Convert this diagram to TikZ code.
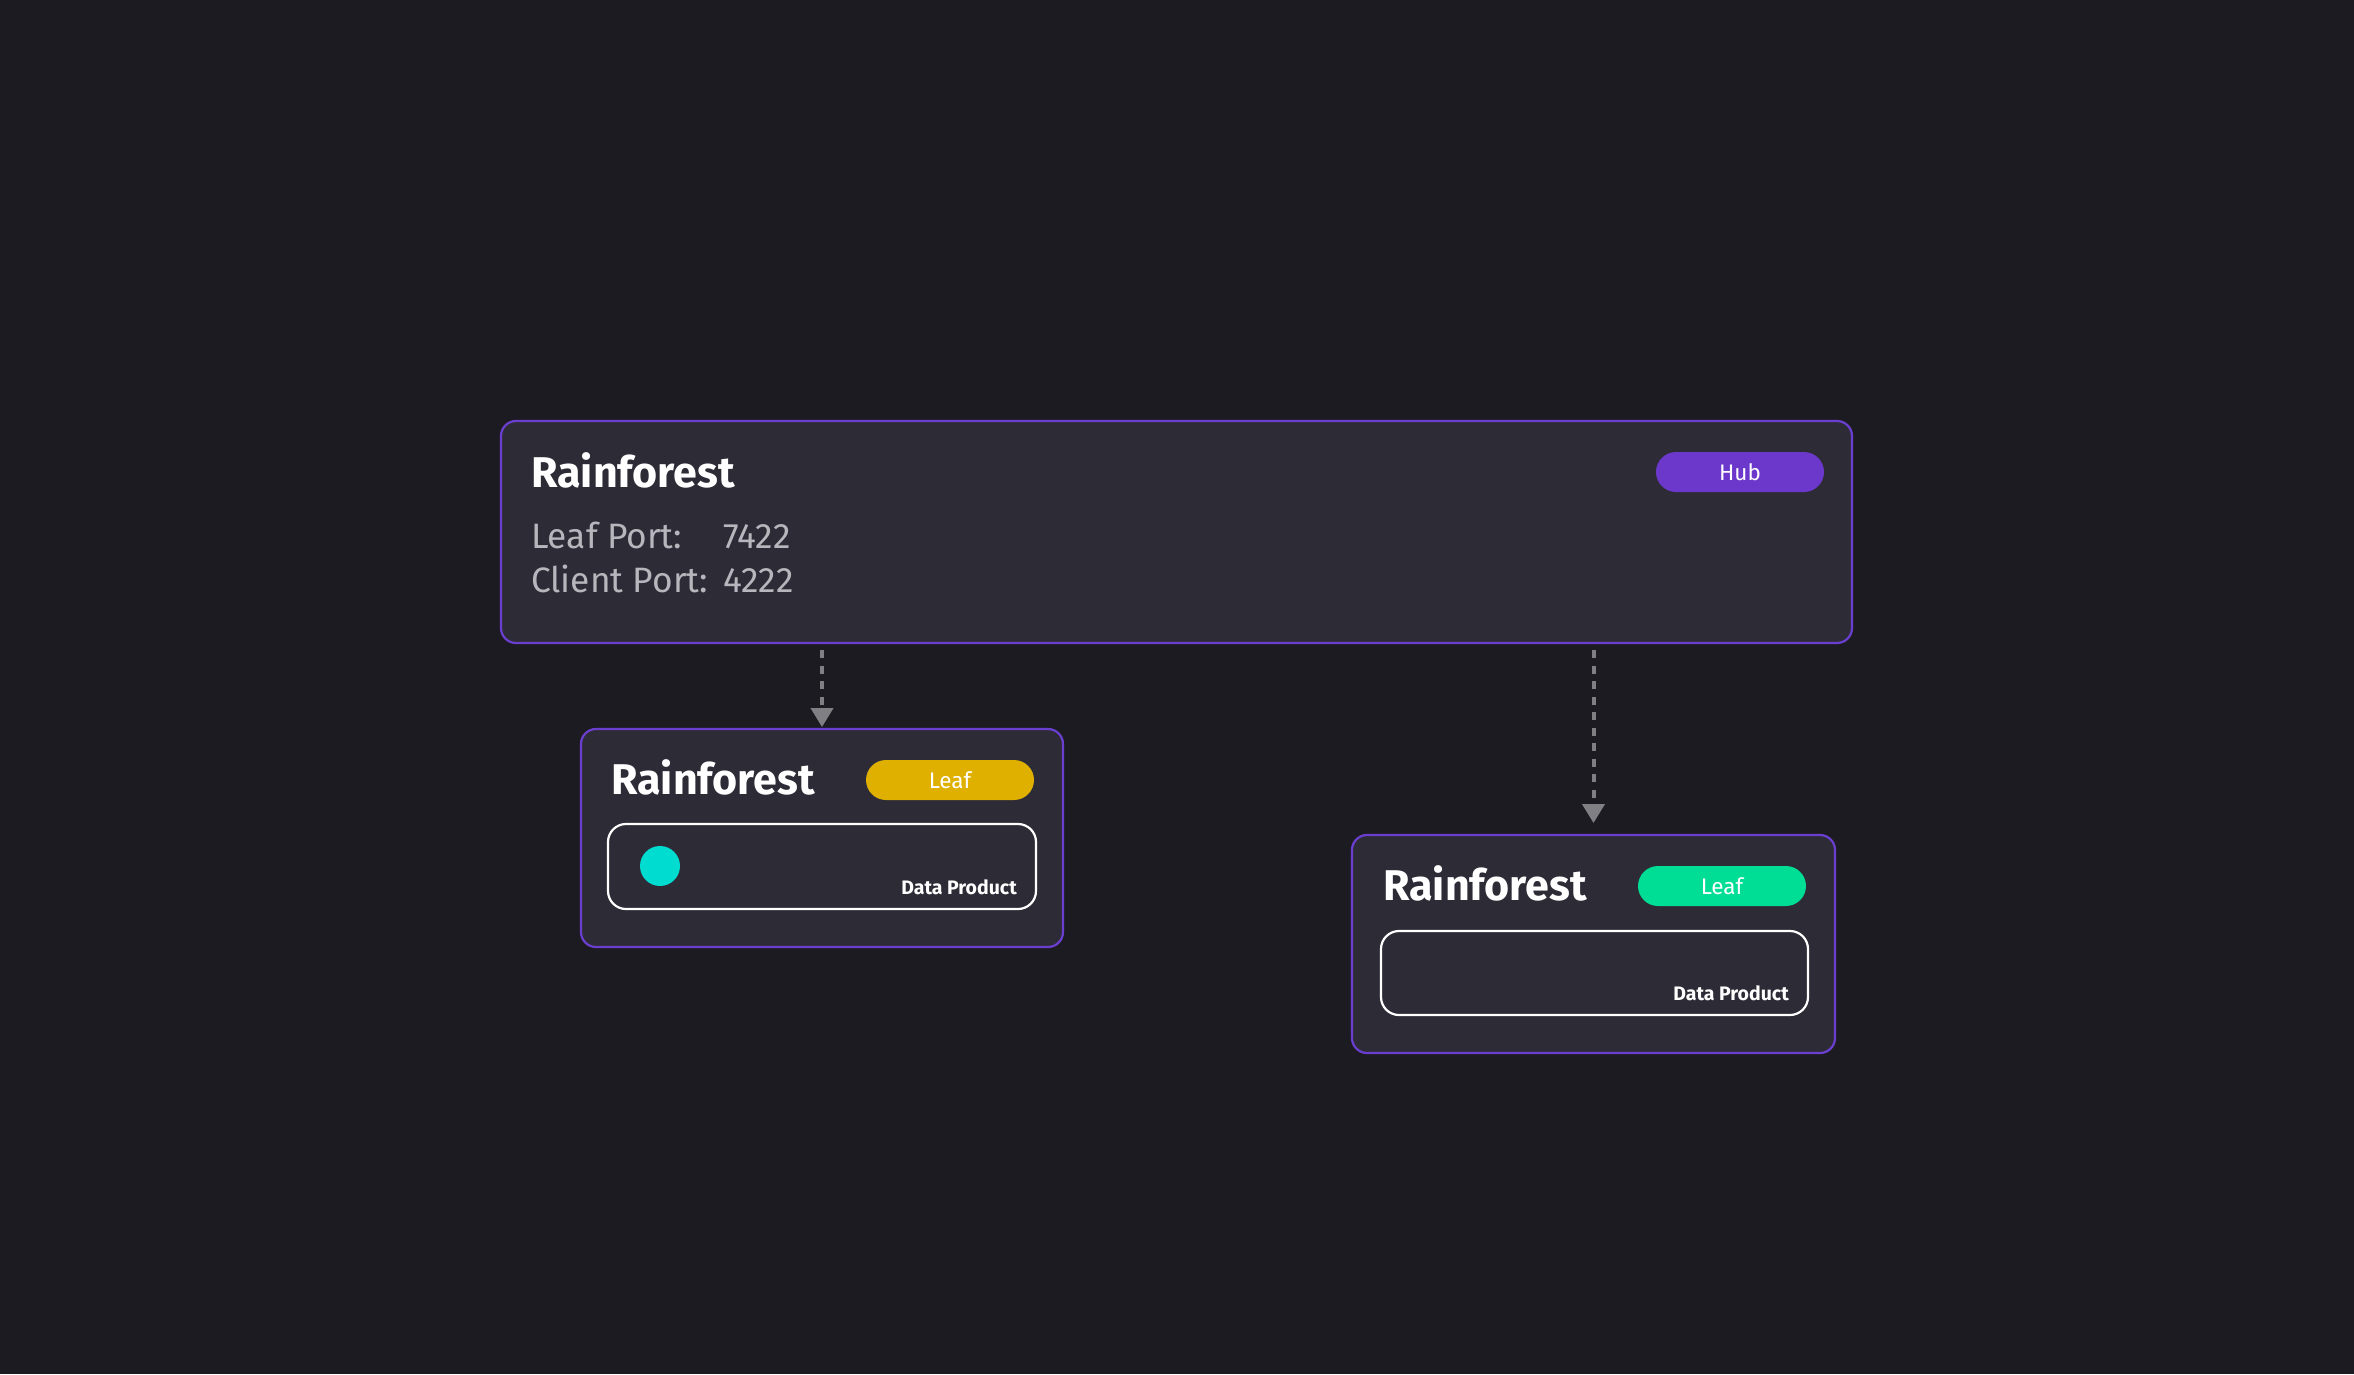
\documentclass[tikz,border=0pt]{standalone}
\usepackage{fontspec}
\setmainfont{Fira Sans}
\usetikzlibrary{arrows.meta}
\definecolor{bgc}{RGB}{28,27,34}
\definecolor{cardfill}{RGB}{45,43,54}
\definecolor{cardborder}{RGB}{106,63,208}
\definecolor{hubc}{RGB}{108,56,204}
\definecolor{yellowc}{RGB}{224,176,0}
\definecolor{greenc}{RGB}{0,222,150}
\definecolor{cyanc}{RGB}{0,220,208}
\definecolor{graytext}{RGB}{182,182,188}
\definecolor{arrowc}{RGB}{128,128,132}
\tikzset{
  card/.style={draw=cardborder, fill=cardfill, line width=2.2pt, rounded corners=15pt, outer sep=0pt, inner sep=0pt},
  dpbox/.style={draw=white, fill=cardfill, line width=2.2pt, rounded corners=18pt, outer sep=0pt, inner sep=0pt},
  badge/.style={rounded corners=20pt, minimum width=168pt, minimum height=40pt, inner sep=0pt, text=white, font=\fontsize{22.5}{26}\selectfont},
  title/.style={anchor=base west, inner sep=0pt, text=white, font=\fontsize{43}{50}\selectfont\bfseries},
  bodytext/.style={anchor=base west, inner sep=0pt, text=graytext, font=\fontsize{35.3}{42}\selectfont},
  dptext/.style={anchor=base east, inner sep=0pt, text=white, font=\fontsize{19.5}{24}\selectfont\bfseries},
  link/.style={draw=arrowc, line width=4pt, dash pattern=on 8pt off 7.5pt, -{Triangle[width=22pt,length=19pt]}}
}
\begin{document}
\begin{tikzpicture}[x=1pt,y=-1pt]
\useasboundingbox (0,0) rectangle (2354,1374);
\fill[bgc] (0,0) rectangle (2354,1374);
% hub card
\node[card, minimum width=1351pt, minimum height=222pt] (hub) at (1176.5,532) {};
\node[title] (hubtitle) at (531,487) {Rainforest};
\node[bodytext] (leafportlbl) at (531,548) {Leaf Port:};
\node[bodytext] (leafportval) at (723,548) {7422};
\node[bodytext] (clientportlbl) at (531,592) {Client Port:};
\node[bodytext] (clientportval) at (723,592) {4222};
\node[badge, fill=hubc] (hubbadge) at (1740,472) {Hub};
% leaf 1
\node[card, minimum width=482pt, minimum height=218pt] (leaf1) at (822,838) {};
\node[title] (leaf1title) at (611,794) {Rainforest};
\node[badge, fill=yellowc] (leaf1badge) at (950,780) {Leaf};
\node[dpbox, minimum width=428pt, minimum height=85pt] (dp1) at (822,866.5) {};
\node[circle, fill=cyanc, minimum size=40pt, inner sep=0pt] (dot1) at (660,866) {};
\node[dptext] (dp1text) at (1017,894) {Data Product};
% leaf 2
\node[card, minimum width=483pt, minimum height=218pt] (leaf2) at (1593.5,944) {};
\node[title] (leaf2title) at (1383,900) {Rainforest};
\node[badge, fill=greenc] (leaf2badge) at (1722,886) {Leaf};
\node[dpbox, minimum width=427pt, minimum height=84pt] (dp2) at (1594.5,973) {};
\node[dptext] (dp2text) at (1789,1000) {Data Product};
% connectors
\draw[link] ([yshift=-7pt]hub.south -| leaf1.north) -- ([yshift=2pt]leaf1.north);
\draw[link] ([yshift=-7pt]hub.south -| leaf2.north) -- ([yshift=12pt]leaf2.north);
\end{tikzpicture}
\end{document}
